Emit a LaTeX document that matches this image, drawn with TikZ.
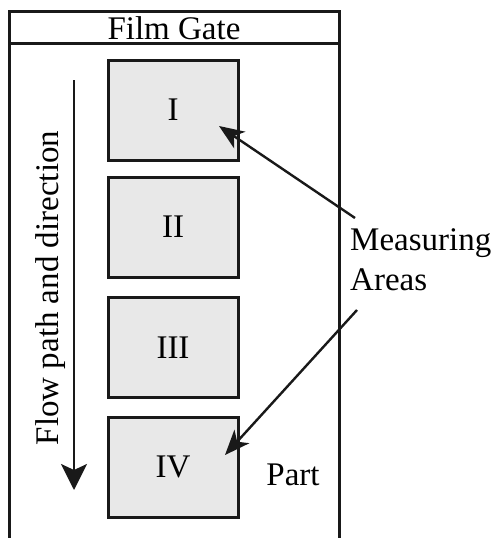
\documentclass[tikz,border=0pt]{standalone}
\usepackage{fontspec}
\setmainfont{Liberation Serif}
\usetikzlibrary{arrows.meta}
\begin{document}
\begin{tikzpicture}[x=1pt,y=-1pt,
  frame/.style={line width=3pt, draw=black!90},
  area/.style={draw=black!90, line width=3pt, fill=gray!18, minimum width=130pt, minimum height=100pt, inner sep=0pt, font=\fontsize{33}{36}\selectfont},
  lbl/.style={font=\fontsize{33}{40}\selectfont, inner sep=0pt},
  pointer/.style={line width=2.4pt, draw=black!90, -{Stealth[length=25pt, width=20pt, inset=7pt]}}]
\useasboundingbox (0,0) rectangle (494,538);
% frame
\draw[frame] (9,538) -- (9,11) -- (339,11) -- (339,538);
\draw[frame] (9,43) -- (339,43);
\node[lbl] (title) at (174,28) {Film Gate};
% measuring areas
\node[area] (a1) at (173,110) {I};
\node[area] (a2) at (173,227) {II};
\node[area] (a3) at (173,347.5) {III};
\node[area] (a4) at (173,467) {IV};
% flow direction
\coordinate (fs) at (74,80);
\coordinate (fe) at (74,490);
\draw[line width=2.4pt, draw=black!90, -{Stealth[length=26pt, width=26pt, inset=6pt]}] (fs) -- (fe);
\node[lbl, rotate=90] (flow) at (51,288) {Flow path and direction};
% labels
\node[lbl, align=left, anchor=north west] (ma) at (350,228) {Measuring\\Areas};
\coordinate (m1) at (355,218);
\coordinate (m2) at (357,310);
\coordinate (t1) at (219,126);
\coordinate (t4) at (225,455);
\draw[pointer] (m1) -- (t1);
\draw[pointer] (m2) -- (t4);
\node[lbl] (part) at (293,475) {Part};
\end{tikzpicture}
\end{document}
